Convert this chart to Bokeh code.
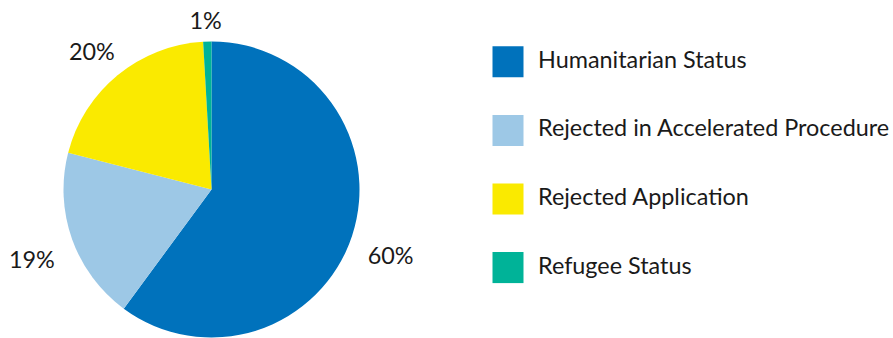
import math
from bokeh.plotting import figure
from bokeh.models import Range1d, ColumnDataSource
from bokeh.core.properties import value
from bokeh.embed import file_html
from bokeh.resources import INLINE

# ---- data ----
categories = ["Humanitarian Status", "Rejected in Accelerated Procedure",
              "Rejected Application", "Refugee Status"]
shares = [60.1, 18.9, 20.1, 0.9]
colors = ["#0072BC", "#9DC8E6", "#FAEA00", "#00B398"]

# ---- layout (page pixel space; y is negated page y) ----
W, H = 893, 338
p = figure(width=W, height=H, output_backend="svg", toolbar_location=None,
           x_range=Range1d(0, W), y_range=Range1d(-H, 0),
           min_border=0, outline_line_color=None, tools="")
p.axis.visible = False
p.grid.visible = False
p.background_fill_color = "white"

cx, cy, R = 211, -189, 148
FONT = value("Lato")
FS = "23.4px"

total = sum(shares)
starts, ends, mids = [], [], []
cum = 0.0
for s in shares:
    a0 = math.pi / 2 - 2 * math.pi * cum / total
    cum += s
    a1 = math.pi / 2 - 2 * math.pi * cum / total
    starts.append(a0)
    ends.append(a1)
    mids.append((a0 + a1) / 2)

src = ColumnDataSource(dict(start=starts, end=ends, color=colors))
p.wedge(x=cx, y=cy, radius=R, start_angle="start", end_angle="end",
        direction="clock", fill_color="color", line_color=None, source=src)

# percentage labels
lx, ly, lt = [], [], []
for s, m in zip(shares, mids):
    txt = f"{round(s)}%"
    w = 14.6 * len(txt)
    h = 18
    dx, dy = math.cos(m), math.sin(m)
    ext = (w / 2) * abs(dx) + (h / 2) * abs(dy)
    d = R + 18 + ext
    lx.append(cx + d * dx - 1)
    ly.append(cy + d * dy - 6)
    lt.append(txt)
p.text(x=lx, y=ly, text=lt, text_font=FONT, text_font_size=FS,
       text_align="center", text_baseline="middle", text_color="#1a1a1a")

# legend
leg_x0, leg_y0, leg_dy, sq = 507.5, -61.3, -68.6, 31
ys = [leg_y0 + i * leg_dy for i in range(len(categories))]
p.rect(x=[leg_x0] * len(categories), y=ys, width=sq, height=sq,
       fill_color=colors, line_color=None)
p.text(x=[537.5] * len(categories), y=[y + 3 for y in ys], text=categories,
       text_font=FONT, text_font_size=FS, text_align="left",
       text_baseline="middle", text_color="#1a1a1a")

open("out.html", "w").write(file_html(p, INLINE))
